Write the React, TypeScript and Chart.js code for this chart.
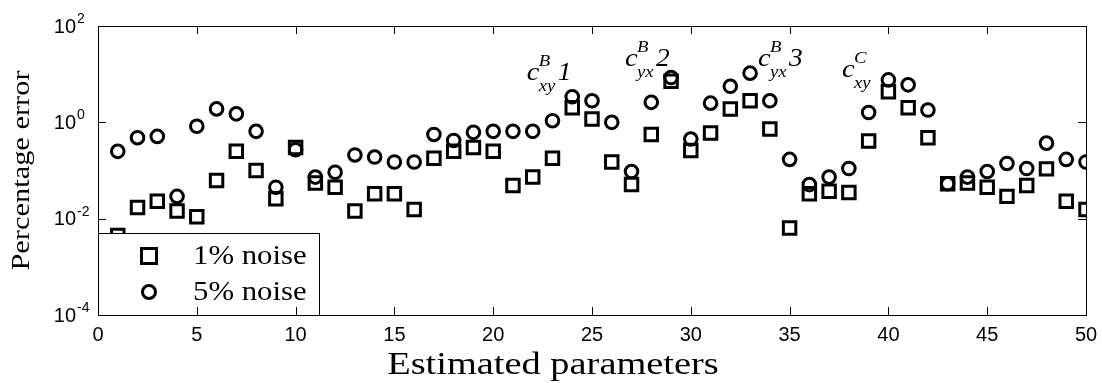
import React, { useEffect, useRef } from "react";
import { Chart, registerables } from "chart.js";

Chart.register(...registerables);

// Index of each estimated parameter (1..50)
const paramIndex = [
  1, 2, 3, 4, 5, 6, 7, 8, 9, 10,
  11, 12, 13, 14, 15, 16, 17, 18, 19, 20,
  21, 22, 23, 24, 25, 26, 27, 28, 29, 30,
  31, 32, 33, 34, 35, 36, 37, 38, 39, 40,
  41, 42, 43, 44, 45, 46, 47, 48, 49, 50,
];

// Percentage error with 1% measurement noise
const error1 = [
  0.0045, 0.017, 0.023, 0.0144, 0.011, 0.062, 0.25, 0.10, 0.026, 0.30,
  0.055, 0.045, 0.0144, 0.033, 0.033, 0.0155, 0.18, 0.25, 0.30, 0.25,
  0.049, 0.073, 0.18, 2.0, 1.17, 0.15, 0.051, 0.56, 7.1, 0.26,
  0.60, 1.9, 2.8, 0.73, 0.0064, 0.033, 0.037, 0.035, 0.41, 4.3,
  2.0, 0.48, 0.053, 0.055, 0.045, 0.029, 0.049, 0.108, 0.023, 0.0155,
];

// Percentage error with 5% measurement noise
const error5 = [
  0.25, 0.48, 0.51, 0.029, 0.83, 1.9, 1.5, 0.65, 0.045, 0.27,
  0.073, 0.092, 0.21, 0.19, 0.15, 0.15, 0.56, 0.42, 0.62, 0.65,
  0.65, 0.65, 1.08, 3.4, 2.8, 1.0, 0.095, 2.6, 8.5, 0.45,
  2.5, 5.6, 10.5, 2.8, 0.17, 0.051, 0.073, 0.11, 1.6, 7.6,
  6.0, 1.8, 0.053, 0.073, 0.095, 0.14, 0.11, 0.37, 0.17, 0.15,
];

const seriesNames = ["1% noise", "5% noise"];

const xTicks = [0, 5, 10, 15, 20, 25, 30, 35, 40, 45, 50];
const yTickExponents = [-4, -2, 0, 2];

const xTitle = "Estimated parameters";
const yTitle = "Percentage error";

// Coefficient labels: symbol c, superscript, subscript, index number
const coefSup = ["B", "B", "B", "C"];
const coefSub = ["xy", "yx", "yx", "xy"];
const coefNum = ["1", "2", "3", ""];
// Anchor of each label (left edge / baseline of "c") in data units
const coefAnchorX = [21.7, 26.67, 33.4, 37.65];
const coefAnchorY = [7.57, 14.8, 14.8, 8.73];

const SERIF = '"Liberation Serif", "Times New Roman", serif';
const SANS = '"Liberation Sans", Arial, sans-serif';

// Draws text widened along its own direction by factor sx
function wideText(ctx: CanvasRenderingContext2D, text: string, x: number, y: number, sx: number) {
  ctx.save();
  ctx.translate(x, y);
  ctx.scale(sx, 1);
  ctx.fillText(text, 0, 0);
  ctx.restore();
}

const decorations = {
  id: "decorations",
  afterDatasetsDraw(chart: any) {
    const { ctx, chartArea: a } = chart;
    const xs = chart.scales.x;
    const ys = chart.scales.y;
    ctx.save();
    ctx.fillStyle = "#000";
    ctx.strokeStyle = "#000";

    // coefficient annotations
    ctx.textBaseline = "alphabetic";
    ctx.textAlign = "left";
    for (let i = 0; i < coefSup.length; i++) {
      const px = xs.getPixelForValue(coefAnchorX[i]);
      const py = ys.getPixelForValue(coefAnchorY[i]);
      ctx.font = `italic 26px ${SERIF}`;
      wideText(ctx, "c", px, py, 1.1);
      ctx.font = `italic 17px ${SERIF}`;
      wideText(ctx, coefSup[i], px + 12, py - 14, 1.1);
      wideText(ctx, coefSub[i], px + 12, py + 11, 1.1);
      if (coefNum[i]) {
        ctx.font = `italic 25px ${SERIF}`;
        wideText(ctx, coefNum[i], px + 31, py, 1.1);
      }
    }

    // legend box (inside lower-left corner)
    const lx = a.left;
    const lw = 221;
    const lh = 82;
    const ly = a.bottom - lh;
    ctx.fillStyle = "#fff";
    ctx.fillRect(lx, ly, lw, lh);
    ctx.lineWidth = 1;
    ctx.strokeRect(lx + 0.5, ly + 0.5, lw, lh);
    ctx.fillStyle = "#000";
    ctx.lineWidth = 3;
    const mx = lx + 51;
    const row1 = ly + 23;
    const row2 = ly + 59;
    ctx.strokeRect(mx - 7.5, row1 - 7.5, 15, 15);
    ctx.beginPath();
    ctx.arc(mx, row2, 6.5, 0, Math.PI * 2);
    ctx.stroke();
    ctx.font = `27px ${SERIF}`;
    ctx.textBaseline = "middle";
    wideText(ctx, seriesNames[0], lx + 95, row1 + 1, 1.14);
    wideText(ctx, seriesNames[1], lx + 95, row2 + 1, 1.14);

    // axes box
    ctx.lineWidth = 1;
    ctx.strokeRect(a.left + 0.5, a.top + 0.5, a.right - a.left, a.bottom - a.top);

    // inward ticks
    const tl = 8;
    ctx.beginPath();
    for (const v of xTicks) {
      const px = Math.round(xs.getPixelForValue(v)) + 0.5;
      ctx.moveTo(px, a.bottom);
      ctx.lineTo(px, a.bottom - tl);
      ctx.moveTo(px, a.top);
      ctx.lineTo(px, a.top + tl);
    }
    for (const e of yTickExponents) {
      const py = Math.round(ys.getPixelForValue(Math.pow(10, e))) + 0.5;
      ctx.moveTo(a.left, py);
      ctx.lineTo(a.left + tl, py);
      ctx.moveTo(a.right, py);
      ctx.lineTo(a.right - tl, py);
    }
    ctx.stroke();

    // x tick labels
    ctx.font = `20px ${SANS}`;
    ctx.textAlign = "center";
    ctx.textBaseline = "middle";
    for (const v of xTicks) {
      ctx.fillText(String(v), xs.getPixelForValue(v), a.bottom + 20);
    }

    // y tick labels with superscript exponents
    for (const e of yTickExponents) {
      const py = ys.getPixelForValue(Math.pow(10, e));
      ctx.font = `20px ${SANS}`;
      ctx.textAlign = "right";
      ctx.textBaseline = "middle";
      ctx.fillText("10", a.left - 22, py + 1);
      ctx.font = `14px ${SANS}`;
      ctx.textAlign = "left";
      ctx.fillText(String(e), a.left - 21, py - 7);
    }

    // axis titles
    ctx.fillStyle = "#000";
    ctx.textAlign = "center";
    ctx.textBaseline = "middle";
    ctx.font = `32px ${SERIF}`;
    wideText(ctx, xTitle, 553, a.bottom + 51, 1.2);
    ctx.save();
    ctx.translate(22, (a.top + a.bottom) / 2);
    ctx.rotate(-Math.PI / 2);
    ctx.font = `26px ${SERIF}`;
    wideText(ctx, yTitle, 0, 0, 1.17);
    ctx.restore();

    ctx.restore();
  },
};

export default function App() {
  const canvasRef = useRef<HTMLCanvasElement | null>(null);

  useEffect(() => {
    const canvas = canvasRef.current;
    if (!canvas) return;
    const chart = new Chart(canvas, {
      type: "scatter",
      data: {
        datasets: [
          {
            label: seriesNames[0],
            data: paramIndex.map((x, i) => ({ x, y: error1[i] })),
            pointStyle: "rect",
            pointRadius: 8.8,
            borderWidth: 3,
            borderColor: "#000",
            backgroundColor: "rgba(0,0,0,0)",
          },
          {
            label: seriesNames[1],
            data: paramIndex.map((x, i) => ({ x, y: error5[i] })),
            pointStyle: "circle",
            pointRadius: 6.3,
            borderWidth: 3,
            borderColor: "#000",
            backgroundColor: "rgba(0,0,0,0)",
          },
        ],
      },
      options: {
        animation: false,
        responsive: true,
        maintainAspectRatio: false,
        layout: { padding: { left: 98, right: 16, top: 26, bottom: 68 } },
        plugins: { legend: { display: false }, tooltip: { enabled: false } },
        scales: {
          x: {
            type: "linear",
            min: 0,
            max: 50,
            grid: { display: false, drawTicks: false },
            border: { display: false },
            ticks: { display: false },
          },
          y: {
            type: "logarithmic",
            min: 1e-4,
            max: 1e2,
            grid: { display: false, drawTicks: false },
            border: { display: false },
            ticks: { display: false },
          },
        },
      },
      plugins: [decorations],
    });
    return () => chart.destroy();
  }, []);

  return (
    <div style={{ position: "fixed", left: 0, top: 0, width: 1102, height: 383, background: "#fff" }}>
      <canvas ref={canvasRef} />
    </div>
  );
}
